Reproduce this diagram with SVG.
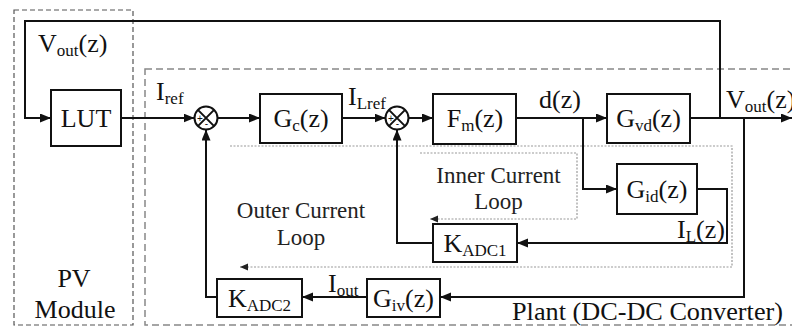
<svg xmlns="http://www.w3.org/2000/svg" width="792" height="327" viewBox="0 0 792 327" font-family="'Times New Roman', 'Liberation Serif', Tinos, serif">
<style>
.t{font-size:26px;fill:#111}
.l{font-size:23px;fill:#222}
.s{font-size:17px}
.box{fill:#fff;stroke:#111;stroke-width:2}
.w{fill:none;stroke:#111;stroke-width:2}
.dot{fill:none;stroke:#9a9a9a;stroke-width:1.2;stroke-dasharray:2 1.5}
.pm{font-family:'Liberation Sans',Arial,sans-serif;font-size:10px;fill:#111}
</style>
<defs>
<marker id="a" markerUnits="userSpaceOnUse" markerWidth="12" markerHeight="10" refX="11" refY="4.5" orient="auto"><path d="M0,0 L11,4.5 L0,9 z" fill="#111"/></marker>
<marker id="b" markerUnits="userSpaceOnUse" markerWidth="9" markerHeight="8" refX="8" refY="3.5" orient="auto"><path d="M0,0 L8,3.5 L0,7 z" fill="#222"/></marker>
</defs>
<g id="frames">
<rect x="14" y="10" width="119" height="315" fill="none" stroke="#555" stroke-width="1.2" stroke-dasharray="5 3"/>
<rect x="145" y="69" width="660" height="256" fill="none" stroke="#888" stroke-width="1.5" stroke-dasharray="7 4"/>
<path class="dot" d="M230,146 H732 V267 H240" marker-end="url(#b)"/>
<path class="dot" d="M420,153 H577 V219 H430" marker-end="url(#b)"/>
</g>
<g id="connectors">
<path class="w" d="M720,118 V21 H25 V118 H51" marker-end="url(#a)"/>
<path class="w" d="M121,118 H194.5" marker-end="url(#a)"/>
<path class="w" d="M218,118 H260" marker-end="url(#a)"/>
<path class="w" d="M342,118 H385.5" marker-end="url(#a)"/>
<path class="w" d="M409,118 H433" marker-end="url(#a)"/>
<path class="w" d="M516,118 H607" marker-end="url(#a)"/>
<path class="w" d="M690,118 H792" marker-end="url(#a)"/>
<path class="w" d="M583,118 V189 H617" marker-end="url(#a)"/>
<path class="w" d="M697,189 H727 V243 H517" marker-end="url(#a)"/>
<path class="w" d="M433,243 H397 V129.5" marker-end="url(#a)"/>
<path class="w" d="M744,118 V297 H440" marker-end="url(#a)"/>
<path class="w" d="M367,297 H302" marker-end="url(#a)"/>
<path class="w" d="M217,297 H206 V129.5" marker-end="url(#a)"/>
</g>
<g id="pv-label">
<text class="t" x="74" y="287" text-anchor="middle">PV</text>
<text class="t" x="75" y="318" text-anchor="middle">Module</text>
</g>
<g id="plant-label">
<text class="t" x="512" y="320" textLength="271" lengthAdjust="spacingAndGlyphs">Plant (DC-DC Converter)</text>
</g>
<g id="lut">
<rect class="box" x="51" y="90" width="70" height="56"/>
<text class="t" x="86" y="127" text-anchor="middle">LUT</text>
</g>
<g id="sum1">
<circle class="box" cx="206" cy="118" r="11.5"/>
<path class="w" stroke-width="1.5" d="M197.9,109.9 L214.1,126.1 M214.1,109.9 L197.9,126.1"/>
<text class="pm" x="200" y="121.5" text-anchor="middle">+</text>
<text class="pm" x="206.5" y="127" text-anchor="middle">-</text>
</g>
<g id="gc">
<rect class="box" x="260" y="94" width="82" height="49"/>
<text class="t" x="301" y="127" text-anchor="middle">G<tspan class="s" dy="4">c</tspan><tspan dy="-4">(z)</tspan></text>
</g>
<g id="sum2">
<circle class="box" cx="397" cy="118" r="11.5"/>
<path class="w" stroke-width="1.5" d="M388.9,109.9 L405.1,126.1 M405.1,109.9 L388.9,126.1"/>
<text class="pm" x="391" y="121.5" text-anchor="middle">+</text>
<text class="pm" x="397.5" y="127" text-anchor="middle">-</text>
</g>
<g id="fm">
<rect class="box" x="433" y="94" width="83" height="50"/>
<text class="t" x="475" y="127" text-anchor="middle">F<tspan class="s" dy="4">m</tspan><tspan dy="-4">(z)</tspan></text>
</g>
<g id="gvd">
<rect class="box" x="607" y="94" width="83" height="49"/>
<text class="t" x="648.5" y="127" text-anchor="middle">G<tspan class="s" dy="4">vd</tspan><tspan dy="-4">(z)</tspan></text>
</g>
<g id="gid">
<rect class="box" x="617" y="164" width="80" height="50"/>
<text class="t" x="657" y="198" text-anchor="middle">G<tspan class="s" dy="4">id</tspan><tspan dy="-4">(z)</tspan></text>
</g>
<g id="kadc1">
<rect class="box" x="433" y="224" width="84" height="38"/>
<text class="t" x="475" y="252" text-anchor="middle">K<tspan class="s" dy="4">ADC1</tspan></text>
</g>
<g id="giv">
<rect class="box" x="367" y="279" width="73" height="38"/>
<text class="t" x="403.5" y="307" text-anchor="middle">G<tspan class="s" dy="4">iv</tspan><tspan dy="-4">(z)</tspan></text>
</g>
<g id="kadc2">
<rect class="box" x="217" y="279" width="85" height="38"/>
<text class="t" x="259.5" y="307" text-anchor="middle">K<tspan class="s" dy="4">ADC2</tspan></text>
</g>
<g id="labels">
<text class="t" x="38" y="52">V<tspan class="s" dy="4">out</tspan><tspan dy="-4">(z)</tspan></text>
<text class="t" x="156" y="100">I<tspan class="s" dy="4">ref</tspan></text>
<text class="t" x="348" y="105">I<tspan class="s" dy="4">Lref</tspan></text>
<text class="t" x="539" y="108">d(z)</text>
<text class="t" x="726" y="108">V<tspan class="s" dy="4">out</tspan><tspan dy="-4">(z)</tspan></text>
<text class="t" x="677" y="238">I<tspan class="s" dy="4">L</tspan><tspan dy="-4">(z)</tspan></text>
<text class="t" x="328" y="292">I<tspan class="s" dy="4">out</tspan></text>
<text class="l" x="301" y="218" text-anchor="middle">Outer Current</text>
<text class="l" x="301" y="245" text-anchor="middle">Loop</text>
<text class="l" x="498.5" y="183" text-anchor="middle">Inner Current</text>
<text class="l" x="498.5" y="209" text-anchor="middle">Loop</text>
</g>
</svg>
